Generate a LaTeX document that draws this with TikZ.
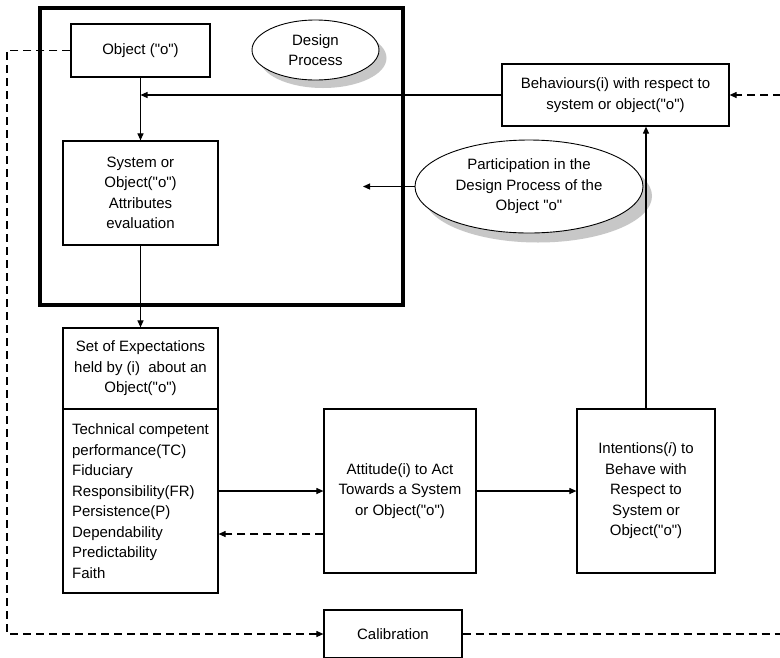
\documentclass[tikz,border=0pt]{standalone}
\usepackage{fontspec}
\setmainfont{Liberation Sans}[Ligatures=TeXOff]
\usetikzlibrary{arrows.meta,shapes.geometric,calc}
\tikzset{
  box/.style={draw, line width=1.2pt, rectangle, inner sep=0pt, align=center,
    font=\fontsize{15}{20.5}\selectfont},
  oval/.style={draw, line width=0.9pt, ellipse, inner sep=0pt, align=center,
    font=\fontsize{15}{20.5}\selectfont},
  conn/.style={line width=1.1pt, -{Triangle[length=7pt,width=6pt]}},
  plain/.style={line width=1.1pt},
  dconn/.style={line width=1.1pt, dash pattern=on 8pt off 5pt, -{Triangle[length=7pt,width=6pt]}},
  dplain/.style={line width=1.1pt, dash pattern=on 8pt off 5pt},
}
\begin{document}
\begin{tikzpicture}[x=1pt,y=-1pt]
\useasboundingbox (0,0) rectangle (780,657);
\clip (0,0) rectangle (780,657);
\fill[white] (0,0) rectangle (780,657);
% design process frame
\draw[line width=3.5pt] (40,8) rectangle (403,305);
% shadows
\fill[black!22] (323,58) ellipse [x radius=63.5pt, y radius=30pt];
\fill[black!22] (538,196) ellipse [x radius=114pt, y radius=46.5pt];
% nodes
\node[box, minimum width=139pt, minimum height=53pt] (obj) at (140.5,50.5) {Object ("o")};
\node[oval, fill=white, minimum width=127pt, minimum height=60pt] (dp) at (315.5,50) {Design\\Process};
\node[box, minimum width=155pt, minimum height=104pt] (sys) at (140.5,193) {System or\\Object("o")\\Attributes\\evaluation};
\node[box, minimum width=227pt, minimum height=62pt] (beh) at (615.5,95) {Behaviours(i) with respect to\\system or object("o")};
\node[oval, fill=white, minimum width=228pt, minimum height=93pt] (part) at (529,186.5) {Participation in the\\Design Process of the\\Object "o"};
\node[box, minimum width=155pt, minimum height=81pt] (settop) at (140.5,368.5) {Set of Expectations\\held by (i)\ \ about an\\Object("o")};
\node[box, minimum width=155pt, minimum height=184pt, align=left] (setlist) at (140.5,501) {Technical competent\\performance(TC)\\Fiduciary\\Responsibility(FR)\\Persistence(P)\\Dependability\\Predictability\\Faith};
\node[box, minimum width=152pt, minimum height=164pt] (att) at (400,491) {Attitude(i) to Act\\Towards a System\\or Object("o")};
\node[box, minimum width=138pt, minimum height=164pt] (int) at (646,491) {Intentions(\textit{i}) to\\Behave with\\Respect to\\System or\\Object("o")};
\node[box, minimum width=138pt, minimum height=48pt] (cal) at (393,634) {Calibration};
% coordinates
\coordinate (partend) at (363,186.5);
\coordinate (lefttop) at (7,50.5);
\coordinate (leftbot) at (7,634);
\coordinate (rightbot) at (781,634);
\coordinate (righttop) at (781,95);
% connectors
\draw[conn] (obj.south) -- (sys.north);
\draw[conn] (beh.west) -- (obj.south |- beh.west);
\draw[conn] (part.west) -- (partend);
\draw[conn] (sys.south) -- (settop.north);
\draw[conn] (setlist.east |- att.west) -- (att.west);
\draw[dconn] ([yshift=-43pt]att.west) -- ([yshift=-43pt]setlist.east |- att.west);
\draw[conn] (att.east) -- (int.west);
\draw[conn] (int.north) -- (int.north |- beh.south);
\draw[dconn] (obj.west) -- (lefttop) -- (leftbot) -- (cal.west);
\draw[dplain] (cal.east) -- (rightbot);
\draw[dconn] (righttop) -- (beh.east);
\end{tikzpicture}
\end{document}
